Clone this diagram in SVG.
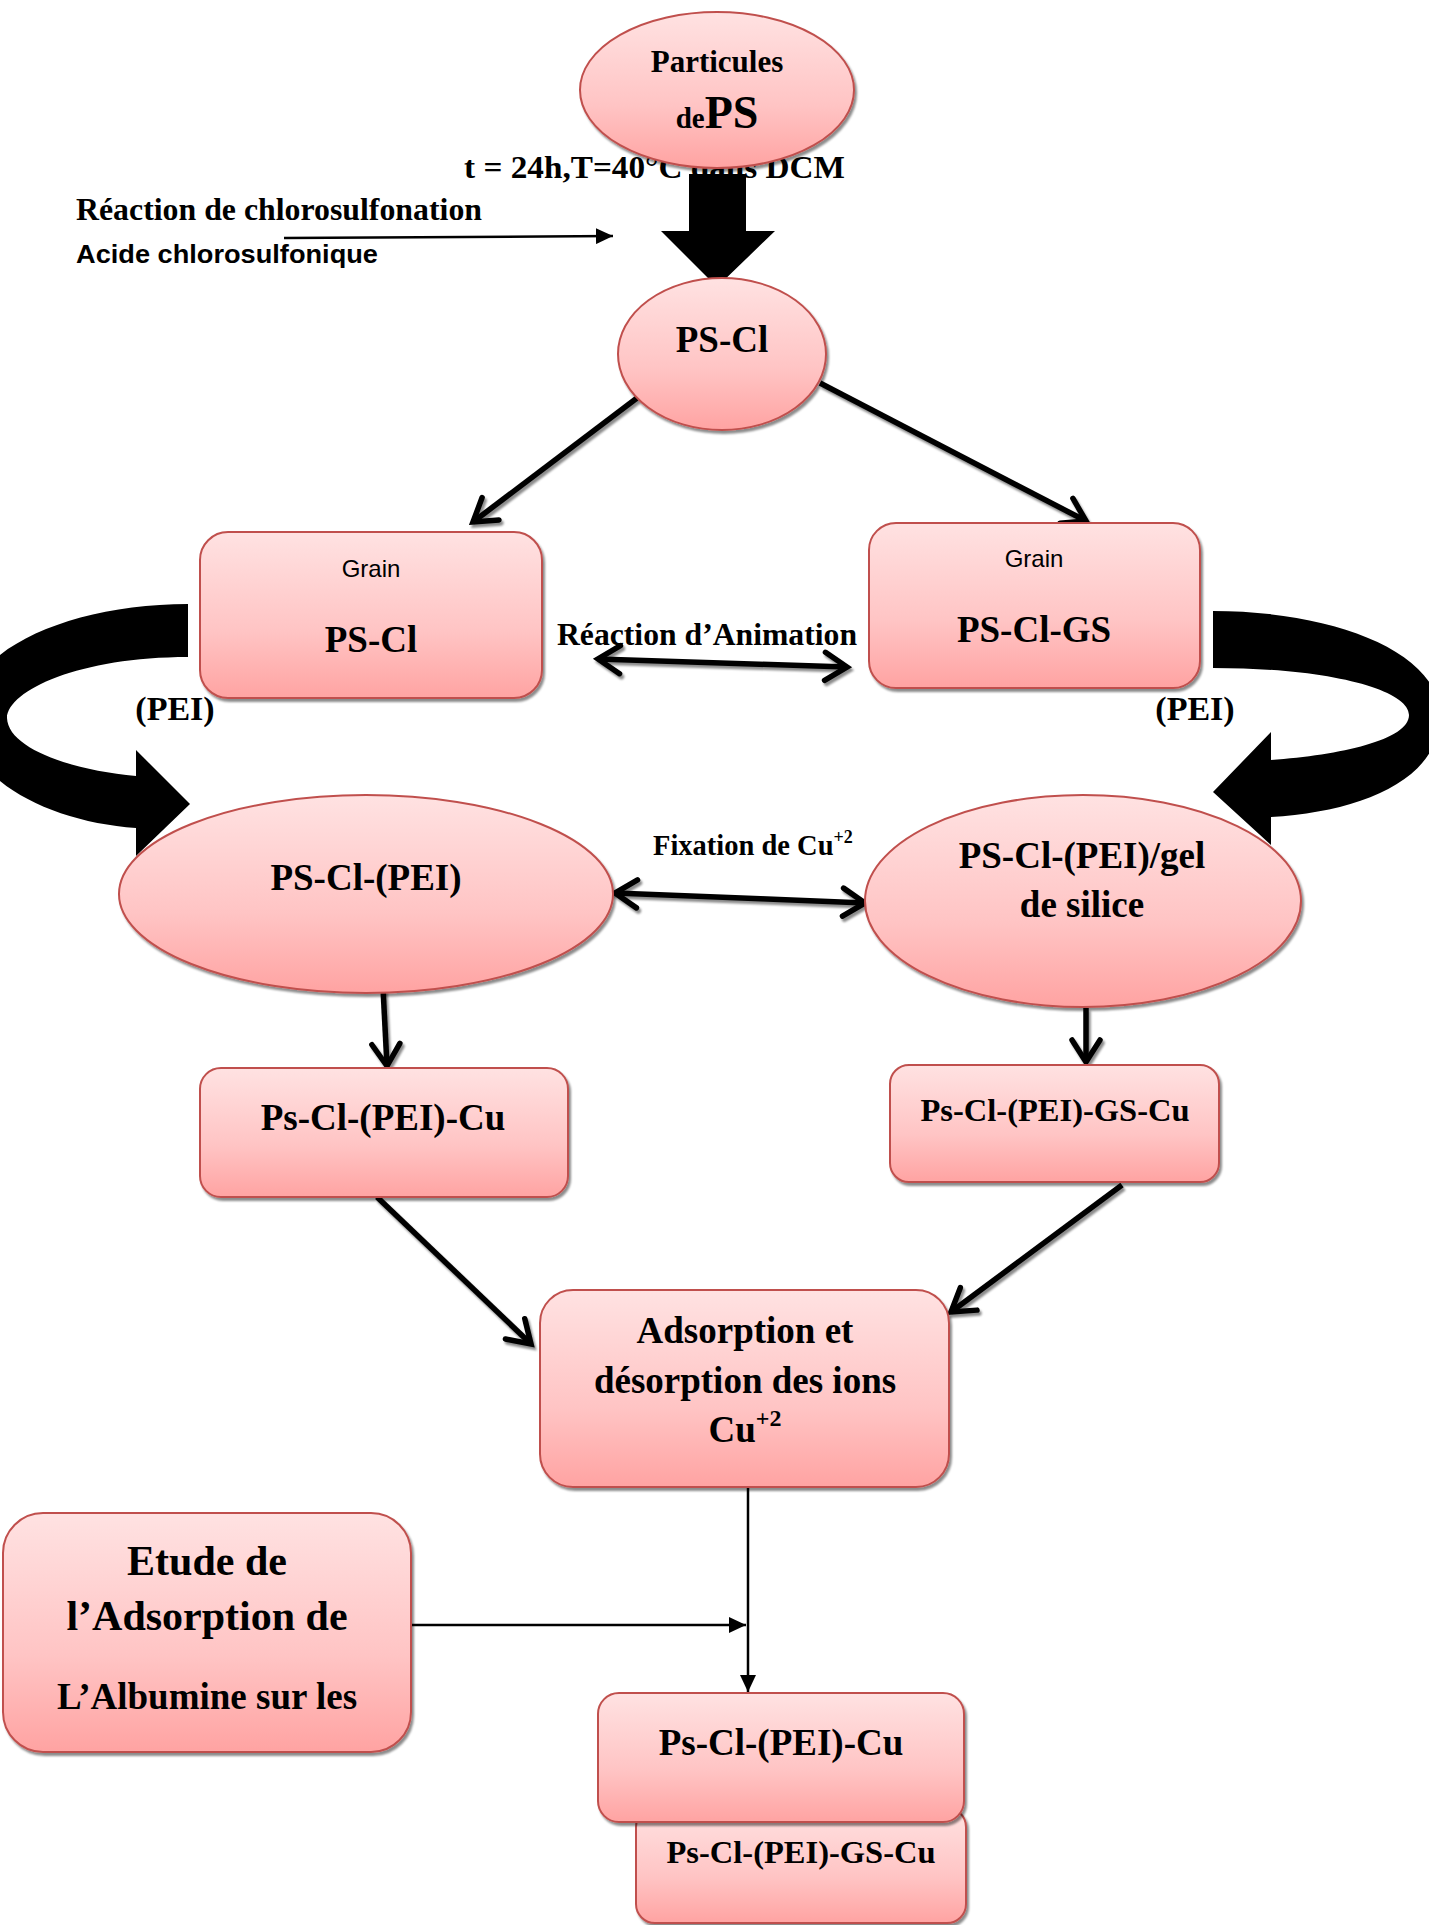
<svg xmlns="http://www.w3.org/2000/svg" width="1429" height="1925" viewBox="0 0 1429 1925">
<defs>
  <linearGradient id="pink" x1="0" y1="0" x2="0" y2="1">
    <stop offset="0" stop-color="#FFE2E2"/>
    <stop offset="0.6" stop-color="#FFC4C4"/>
    <stop offset="1" stop-color="#FFA3A2"/>
  </linearGradient>
  <filter id="sh" x="-10%" y="-10%" width="130%" height="130%">
    <feDropShadow dx="2" dy="3" stdDeviation="1.2" flood-color="#000" flood-opacity="0.45"/>
  </filter>
  <marker id="chev" markerUnits="userSpaceOnUse" markerWidth="34" markerHeight="38" viewBox="0 0 34 38" refX="29" refY="19" orient="auto-start-reverse">
    <path d="M7,5 L29,19 L7,33" fill="none" stroke="#000" stroke-width="5.5" stroke-linecap="round" stroke-linejoin="miter"/>
  </marker>
  <marker id="tri" markerUnits="userSpaceOnUse" markerWidth="18" markerHeight="16" viewBox="0 0 18 16" refX="17" refY="8" orient="auto">
    <path d="M0,0 L17,8 L0,16 Z" fill="#000"/>
  </marker>
  <style>
    .node{fill:url(#pink);stroke:#C0504D;stroke-width:2;filter:url(#sh)}
    .t{font-family:"Liberation Serif","Times New Roman",serif;font-weight:bold;fill:#000;text-anchor:middle}
    .s{font-family:"Liberation Sans",Arial,sans-serif;fill:#000}
    .c{fill:none;stroke:#000;stroke-width:5.5;marker-end:url(#chev)}
    .cc{fill:none;stroke:#000;stroke-width:5.5;marker-start:url(#chev);marker-end:url(#chev)}
    .thin{fill:none;stroke:#000;stroke-width:2.5}
  </style>
</defs>
<rect width="1429" height="1925" fill="#fff"/>

<!-- curved thick arrows (drawn behind nodes) -->
<g id="curved-arrows" fill="#000">
  <path d="M188,604 C70,604 -35,650 -35,716 C-35,780 50,822 136,828 L136,856 L190,804 L136,750 L136,776 C70,770 8,748 7,718 C8,690 80,657 188,657 Z"/>
  <path d="M1213,611 C1330,611 1440,650 1440,716 C1440,780 1360,812 1271,817 L1271,845 L1213,792 L1271,732 L1271,760 C1340,755 1409,740 1409,715 C1409,690 1330,668 1213,668 Z"/>
</g>

<g id="connectors">
  <g filter="url(#sh)">
    <line class="c" x1="637" y1="398" x2="473" y2="522"/>
    <line class="c" x1="820" y1="383" x2="1086" y2="521"/>
    <line class="cc" x1="598" y1="659" x2="847" y2="667"/>
    <line class="cc" x1="615" y1="893" x2="865" y2="903"/>
    <line class="c" x1="383" y1="988" x2="387" y2="1066"/>
    <line class="c" x1="1086" y1="1008" x2="1086" y2="1062"/>
    <line class="c" x1="377" y1="1197" x2="531" y2="1344"/>
    <line class="c" x1="1122" y1="1185" x2="951" y2="1312"/>
  </g>
  <line class="thin" x1="284" y1="238" x2="613" y2="236" marker-end="url(#tri)"/>
  <line class="thin" x1="748" y1="1487" x2="748" y2="1692" marker-end="url(#tri)"/>
  <line class="thin" x1="411" y1="1625" x2="746" y2="1625" marker-end="url(#tri)"/>
</g>

<g id="conditions">
  <text class="t" x="464" y="178" font-size="31" style="text-anchor:start" textLength="381" lengthAdjust="spacingAndGlyphs">t = 24h,T=40°C dans DCM</text>
  <polygon points="689,174 746,174 746,231 775,231 717,287 661,231 689,231" fill="#000"/>
  <text class="t" x="76" y="220" font-size="31" style="text-anchor:start" textLength="406" lengthAdjust="spacingAndGlyphs">Réaction de chlorosulfonation</text>
  <text class="s" x="76" y="263" font-size="26" font-weight="bold" textLength="302" lengthAdjust="spacingAndGlyphs">Acide chlorosulfonique</text>
</g>

<g id="n-particules">
  <ellipse class="node" cx="717" cy="90" rx="137" ry="78"/>
  <text class="t" x="717" y="72" font-size="31">Particules</text>
  <text class="t" x="717" y="128"><tspan font-size="29">de</tspan><tspan font-size="46">PS</tspan></text>
</g>

<g id="n-pscl">
  <ellipse class="node" cx="722" cy="354" rx="104" ry="76"/>
  <text class="t" x="722" y="352" font-size="37">PS-Cl</text>
</g>

<g id="n-grain-pscl">
  <rect class="node" x="200" y="532" width="342" height="166" rx="28"/>
  <text class="s" x="371" y="577" font-size="24" text-anchor="middle">Grain</text>
  <text class="t" x="371" y="652" font-size="37">PS-Cl</text>
</g>

<g id="n-grain-psclgs">
  <rect class="node" x="869" y="523" width="331" height="165" rx="27"/>
  <text class="s" x="1034" y="567" font-size="24" text-anchor="middle">Grain</text>
  <text class="t" x="1034" y="642" font-size="37">PS-Cl-GS</text>
</g>

<g id="labels">
  <text class="t" x="557" y="645" font-size="31" style="text-anchor:start" textLength="300" lengthAdjust="spacingAndGlyphs">Réaction d’Animation</text>
  <text class="t" x="175" y="720" font-size="34">(PEI)</text>
  <text class="t" x="1195" y="720" font-size="34">(PEI)</text>
  <text class="t" x="653" y="855" font-size="28.5" style="text-anchor:start">Fixation de Cu<tspan font-size="18" dy="-12">+2</tspan></text>
</g>

<g id="n-pscl-pei">
  <ellipse class="node" cx="366" cy="894" rx="247" ry="99"/>
  <text class="t" x="366" y="890" font-size="37">PS-Cl-(PEI)</text>
</g>

<g id="n-pscl-pei-gel">
  <ellipse class="node" cx="1083" cy="901" rx="218" ry="106"/>
  <text class="t" x="1082" y="868" font-size="37">PS-Cl-(PEI)/gel</text>
  <text class="t" x="1082" y="917" font-size="37">de silice</text>
</g>

<g id="n-ps-pei-cu">
  <rect class="node" x="200" y="1068" width="368" height="129" rx="21"/>
  <text class="t" x="383" y="1130" font-size="37">Ps-Cl-(PEI)-Cu</text>
</g>

<g id="n-ps-pei-gs-cu">
  <rect class="node" x="890" y="1065" width="329" height="117" rx="19"/>
  <text class="t" x="1055" y="1121" font-size="32.5">Ps-Cl-(PEI)-GS-Cu</text>
</g>

<g id="n-adsorption">
  <rect class="node" x="540" y="1290" width="409" height="197" rx="33"/>
  <text class="t" x="745" y="1343" font-size="37">Adsorption et</text>
  <text class="t" x="745" y="1393" font-size="37">désorption des ions</text>
  <text class="t" x="745" y="1442" font-size="37">Cu<tspan font-size="24" dy="-16">+2</tspan></text>
</g>

<g id="n-etude">
  <rect class="node" x="3" y="1513" width="408" height="239" rx="40"/>
  <text class="t" x="207" y="1575" font-size="42">Etude de</text>
  <text class="t" x="207" y="1630" font-size="42">l’Adsorption de</text>
  <text class="t" x="207" y="1709" font-size="37">L’Albumine sur les</text>
</g>

<g id="n-bottom-gs">
  <rect class="node" x="636" y="1808" width="330" height="115" rx="19"/>
  <text class="t" x="801" y="1863" font-size="32.5">Ps-Cl-(PEI)-GS-Cu</text>
</g>

<g id="n-bottom-cu">
  <rect class="node" x="598" y="1693" width="366" height="129" rx="21"/>
  <text class="t" x="781" y="1755" font-size="37">Ps-Cl-(PEI)-Cu</text>
</g>
</svg>
